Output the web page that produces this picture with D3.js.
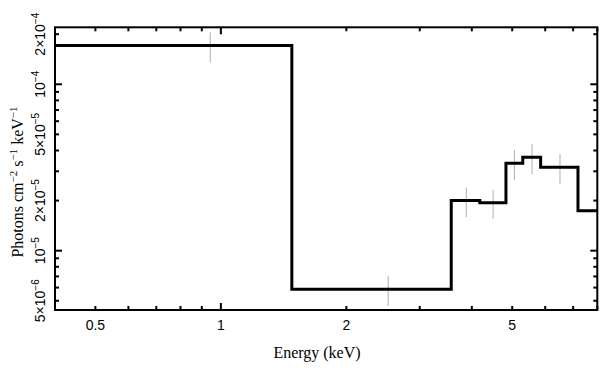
<!DOCTYPE html>
<html>
<head>
<meta charset="utf-8">
<script src="https://cdn.jsdelivr.net/npm/d3@7"></script>
<style>
body { margin: 0; background: #fff; }
</style>
</head>
<body>
<script>
// step model: bin edges (keV) and flux in each bin
var binEdges = [0.4, 1.48, 3.57, 4.18, 4.83, 5.30, 5.85, 7.19, 8.0];
var modelFlux = [1.71e-4, 5.86e-6, 2.00e-5, 1.94e-5, 3.35e-5, 3.64e-5, 3.17e-5, 1.74e-5];

// data points, vertical error bars only
var dataEnergy = [0.943, 2.52, 3.88, 4.50, 5.06, 5.58, 6.51];
var dataHigh = [2.05e-4, 7.08e-6, 2.40e-5, 2.32e-5, 4.03e-5, 4.36e-5, 3.81e-5];
var dataLow = [1.35e-4, 4.65e-6, 1.59e-5, 1.55e-5, 2.66e-5, 2.88e-5, 2.51e-5];

var xTickLabels = [0.5, 1, 2, 5];
var yTickVals = [2e-4, 1e-4, 5e-5, 2e-5, 1e-5, 5e-6];
var yTickMant = ["2\u00d7", "", "5\u00d7", "2\u00d7", "", "5\u00d7"];
var yTickExp = ["\u22124", "\u22124", "\u22125", "\u22125", "\u22125", "\u22126"];

var W = 609, H = 373;
var margin = {left: 55, top: 27.3, right: 11.7, bottom: 63};
var pw = W - margin.left - margin.right;
var ph = H - margin.top - margin.bottom;

var svg = d3.select('body').append('svg')
  .attr('width', W)
  .attr('height', H);

var g = svg.append('g').attr('transform', 'translate(' + margin.left + ',' + margin.top + ')');

var x = d3.scaleLog().domain([0.4, 8.0]).range([0, pw]);
var y = d3.scaleLog().domain([4.4e-6, 2.2e-4]).range([ph, 0]);

// tick positions: decades get long ticks, the rest short
var xTicks = [0.4, 0.5, 0.6, 0.7, 0.8, 0.9, 1, 2, 3, 4, 5, 6, 7, 8];
var yTicks = [];
[1e-6, 1e-5, 1e-4].forEach(function(dec) {
  for (var k = 1; k <= 9; k++) {
    var v = k * dec;
    if (v >= 4.4e-6 && v <= 2.2e-4) yTicks.push(v);
  }
});
var isMajor = function(v) {
  var l = Math.log10(v);
  return Math.abs(l - Math.round(l)) < 1e-6;
};
var tlen = function(v) { return isMajor(v) ? 7 : 4; };

var ticks = g.append('g').attr('stroke', '#000').attr('stroke-width', 2);
ticks.selectAll('.xb').data(xTicks).enter().append('line')
  .attr('x1', function(d) { return x(d); }).attr('x2', function(d) { return x(d); })
  .attr('y1', ph).attr('y2', function(d) { return ph - tlen(d); });
ticks.selectAll('.xt').data(xTicks).enter().append('line')
  .attr('x1', function(d) { return x(d); }).attr('x2', function(d) { return x(d); })
  .attr('y1', 0).attr('y2', function(d) { return tlen(d); });
ticks.selectAll('.yl').data(yTicks).enter().append('line')
  .attr('y1', function(d) { return y(d); }).attr('y2', function(d) { return y(d); })
  .attr('x1', 0).attr('x2', function(d) { return tlen(d); });
ticks.selectAll('.yr').data(yTicks).enter().append('line')
  .attr('y1', function(d) { return y(d); }).attr('y2', function(d) { return y(d); })
  .attr('x1', pw).attr('x2', function(d) { return pw - tlen(d); });

// error bars
g.selectAll('.err').data(dataEnergy)
  .enter()
  .append('line')
  .attr('class', 'err')
  .attr('x1', function(d) { return x(d); })
  .attr('x2', function(d) { return x(d); })
  .attr('y1', function(d, i) { return y(dataHigh[i]); })
  .attr('y2', function(d, i) { return y(dataLow[i]); })
  .attr('stroke', '#b0b0b0')
  .attr('stroke-width', 1);

// model step line
var steps = binEdges.map(function(e, i) {
  return [e, i < modelFlux.length ? modelFlux[i] : modelFlux[modelFlux.length - 1]];
});
var line = d3.line()
  .x(function(d) { return x(d[0]); })
  .y(function(d) { return y(d[1]); })
  .curve(d3.curveStepAfter);
g.append('path')
  .datum(steps)
  .attr('d', line)
  .attr('fill', 'none')
  .attr('stroke', '#000')
  .attr('stroke-width', 3);

// frame
g.append('rect')
  .attr('width', pw)
  .attr('height', ph)
  .attr('fill', 'none')
  .attr('stroke', '#000')
  .attr('stroke-width', 2);

// x tick labels
g.selectAll('.xlab').data(xTickLabels)
  .enter()
  .append('text')
  .attr('x', function(d) { return x(d); })
  .attr('y', ph + 20)
  .attr('text-anchor', 'middle')
  .attr('font-family', 'Liberation Sans, Arial, sans-serif')
  .attr('font-size', 14)
  .text(function(d) { return d; });

// y tick labels, rotated with superscripts
var yl = g.selectAll('.ylab').data(yTickVals)
  .enter()
  .append('text')
  .attr('transform', function(d) { return 'translate(-10,' + y(d) + ') rotate(-90)'; })
  .attr('text-anchor', 'middle')
  .attr('font-family', 'Liberation Sans, Arial, sans-serif')
  .attr('font-size', 14);
yl.append('tspan').text(function(d, i) { return yTickMant[i] + '10'; });
yl.append('tspan').attr('dy', -6).attr('font-size', 10).text(function(d, i) { return yTickExp[i]; });

// axis titles
svg.append('text')
  .attr('x', 317)
  .attr('y', 358)
  .attr('text-anchor', 'middle')
  .attr('font-family', 'Liberation Serif, Times New Roman, serif')
  .attr('font-size', 16)
  .text('Energy (keV)');

var yt = svg.append('text')
  .attr('transform', 'translate(23,182) rotate(-90)')
  .attr('text-anchor', 'middle')
  .attr('font-family', 'Liberation Serif, Times New Roman, serif')
  .attr('font-size', 16);
yt.append('tspan').text('Photons cm');
yt.append('tspan').attr('dy', -6).attr('font-size', 11).text('\u22122');
yt.append('tspan').attr('dy', 6).text(' s');
yt.append('tspan').attr('dy', -6).attr('font-size', 11).text('\u22121');
yt.append('tspan').attr('dy', 6).text(' keV');
yt.append('tspan').attr('dy', -6).attr('font-size', 11).text('\u22121');
</script>
</body>
</html>
